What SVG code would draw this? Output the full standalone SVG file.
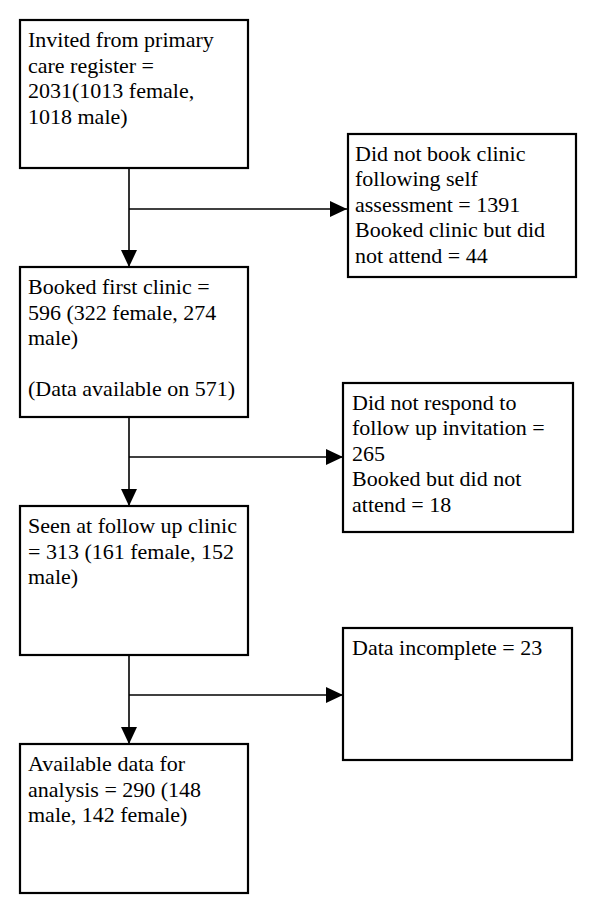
<svg xmlns="http://www.w3.org/2000/svg" width="600" height="907" viewBox="0 0 600 907">
<defs>
<style>
.box{fill:#fff;stroke:#000;stroke-width:2.2}
.t{font-family:"Liberation Serif","Times New Roman",serif;font-size:22px;fill:#000}
.c{fill:none;stroke:#000;stroke-width:1.6}
</style>
<marker id="ah" markerUnits="userSpaceOnUse" markerWidth="17" markerHeight="16" refX="17" refY="8" orient="auto" viewBox="0 0 17 16">
<path d="M0,0 L17,8 L0,16 z" fill="#000"/>
</marker>
</defs>
<rect width="600" height="907" fill="#fff"/>
<g id="connectors">
<line class="c" x1="129" y1="168" x2="129" y2="267" marker-end="url(#ah)"/>
<line class="c" x1="129" y1="209" x2="347" y2="209" marker-end="url(#ah)"/>
<line class="c" x1="129" y1="417" x2="129" y2="506" marker-end="url(#ah)"/>
<line class="c" x1="129" y1="457" x2="343" y2="457" marker-end="url(#ah)"/>
<line class="c" x1="129" y1="655" x2="129" y2="744" marker-end="url(#ah)"/>
<line class="c" x1="129" y1="695" x2="343" y2="695" marker-end="url(#ah)"/>
</g>
<g id="invited">
<rect class="box" x="20" y="20" width="228" height="148"/>
<text class="t" x="28" y="47">Invited from primary</text>
<text class="t" x="28" y="72.5">care register =</text>
<text class="t" x="28" y="98">2031(1013 female,</text>
<text class="t" x="28" y="123.5">1018 male)</text>
</g>
<g id="didnotbook">
<rect class="box" x="348" y="134" width="228" height="143"/>
<text class="t" x="355" y="161">Did not book clinic</text>
<text class="t" x="355" y="186">following self</text>
<text class="t" x="355" y="211.5">assessment = 1391</text>
<text class="t" x="355" y="237">Booked clinic but did</text>
<text class="t" x="355" y="262.5">not attend = 44</text>
</g>
<g id="booked">
<rect class="box" x="20" y="267" width="228" height="150"/>
<text class="t" x="28" y="294">Booked first clinic =</text>
<text class="t" x="28" y="319.5">596 (322 female, 274</text>
<text class="t" x="28" y="345">male)</text>
<text class="t" x="28" y="396">(Data available on 571)</text>
</g>
<g id="didnotrespond">
<rect class="box" x="343" y="383" width="230" height="149"/>
<text class="t" x="352" y="409.5">Did not respond to</text>
<text class="t" x="352" y="435">follow up invitation =</text>
<text class="t" x="352" y="460.5">265</text>
<text class="t" x="352" y="486">Booked but did not</text>
<text class="t" x="352" y="511.5">attend = 18</text>
</g>
<g id="seen">
<rect class="box" x="20" y="506" width="228" height="149"/>
<text class="t" x="28" y="533">Seen at follow up clinic</text>
<text class="t" x="28" y="558.5">= 313 (161 female, 152</text>
<text class="t" x="28" y="584">male)</text>
</g>
<g id="incomplete">
<rect class="box" x="343" y="628" width="229" height="132"/>
<text class="t" x="352" y="655">Data incomplete = 23</text>
</g>
<g id="available">
<rect class="box" x="20" y="744" width="228" height="149"/>
<text class="t" x="28" y="771">Available data for</text>
<text class="t" x="28" y="796.5">analysis = 290 (148</text>
<text class="t" x="28" y="822">male, 142 female)</text>
</g>
</svg>
